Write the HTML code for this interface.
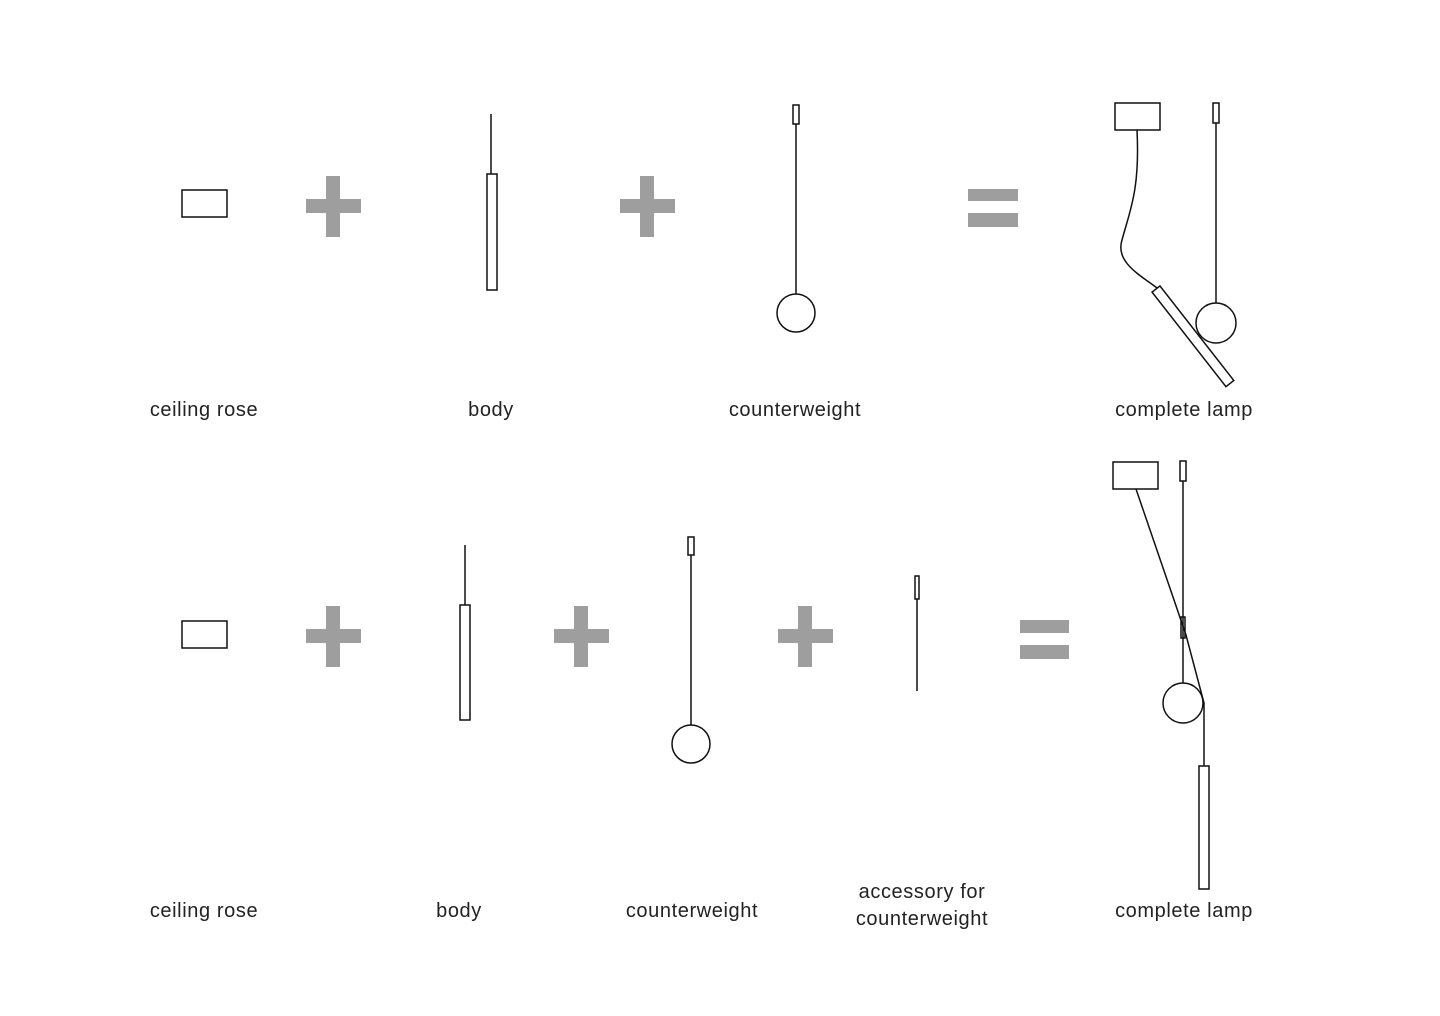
<!DOCTYPE html>
<html><head><meta charset="utf-8"><style>
html,body{margin:0;padding:0;background:#fff;}
svg{display:block}
text{font-family:"Liberation Sans",sans-serif;font-size:20px;letter-spacing:0.6px;fill:#222;text-anchor:middle}
</style></head><body>
<svg width="1440" height="1016" viewBox="0 0 1440 1016">
<g fill="#9e9e9e">
<rect x="306" y="199" width="55" height="14"/><rect x="326" y="176" width="14" height="61"/>
<rect x="620" y="199" width="55" height="14"/><rect x="640" y="176" width="14" height="61"/>
<rect x="968" y="189" width="50" height="12"/><rect x="968" y="213" width="50" height="14"/>
<rect x="306" y="629" width="55" height="14"/><rect x="326" y="606" width="14" height="61"/>
<rect x="554" y="629" width="55" height="14"/><rect x="574" y="606" width="14" height="61"/>
<rect x="778" y="629" width="55" height="14"/><rect x="798" y="606" width="14" height="61"/>
<rect x="1020" y="620" width="49" height="13"/><rect x="1020" y="645" width="49" height="14"/>
</g>
<g fill="none" stroke="#111" stroke-width="1.5">
<rect x="182" y="190" width="45" height="27"/>
<line x1="491" y1="114" x2="491" y2="174"/><rect x="487" y="174" width="10" height="116"/>
<rect x="793" y="105" width="6" height="19"/><line x1="796" y1="124" x2="796" y2="294"/><circle cx="796" cy="313" r="19"/>
<rect x="1115" y="103" width="45" height="27"/>
<path d="M1137 130 C1140 190 1130 210 1122 240 C1115 262 1140 275 1157 288"/>
<rect x="-5" y="0" width="10" height="120" transform="translate(1156,289) rotate(-38)"/>
<rect x="1213" y="103" width="6" height="20"/><line x1="1216" y1="123" x2="1216" y2="303"/><circle cx="1216" cy="323" r="20"/>

<rect x="182" y="621" width="45" height="27"/>
<line x1="465" y1="545" x2="465" y2="605"/><rect x="460" y="605" width="10" height="115"/>
<rect x="688" y="537" width="6" height="18"/><line x1="691" y1="555" x2="691" y2="725"/><circle cx="691" cy="744" r="19"/>
<rect x="915" y="576" width="4" height="23"/><line x1="917" y1="599" x2="917" y2="691"/>
<rect x="1113" y="462" width="45" height="27"/>
<rect x="1180" y="461" width="6" height="20"/><line x1="1183" y1="481" x2="1183" y2="683"/>
<polyline points="1136,489 1186,635 1204,703 1204,766"/>
<rect x="1181" y="617" width="4" height="21"/>
<circle cx="1183" cy="703" r="20"/>
<rect x="1199" y="766" width="10" height="123"/>
</g>
<text x="204" y="416">ceiling rose</text>
<text x="491" y="416">body</text>
<text x="795" y="416">counterweight</text>
<text x="1184" y="416">complete lamp</text>
<text x="204" y="917">ceiling rose</text>
<text x="459" y="917">body</text>
<text x="692" y="917">counterweight</text>
<text x="922" y="898">accessory for</text>
<text x="922" y="925">counterweight</text>
<text x="1184" y="917">complete lamp</text>
</svg>
</body></html>
